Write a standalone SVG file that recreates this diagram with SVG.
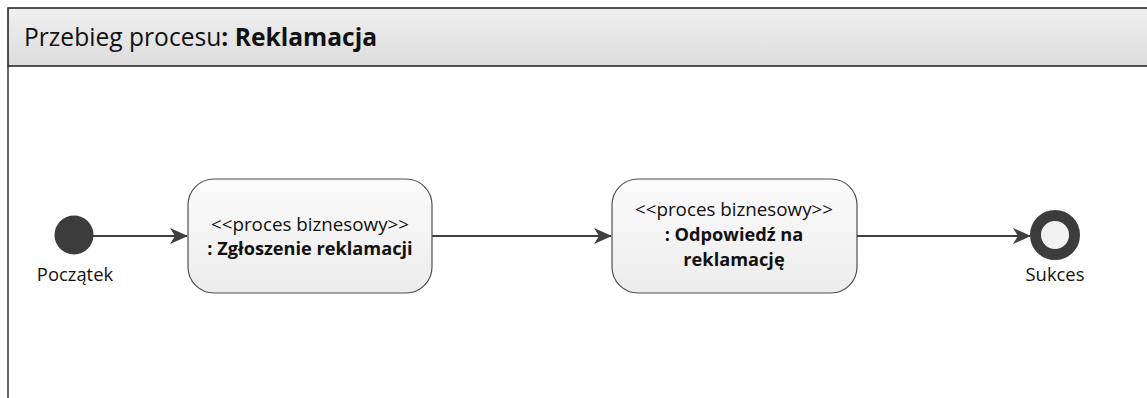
<svg xmlns="http://www.w3.org/2000/svg" width="1147" height="398" viewBox="0 0 1147 398">
<defs>
<linearGradient id="hdr" x1="0" y1="0" x2="0" y2="1">
<stop offset="0" stop-color="#f0f0f0"/>
<stop offset="1" stop-color="#dcdcdc"/>
</linearGradient>
<linearGradient id="box" x1="0" y1="0" x2="0" y2="1">
<stop offset="0" stop-color="#fbfbfb"/>
<stop offset="1" stop-color="#ececec"/>
</linearGradient>
<marker id="arr" markerWidth="18" markerHeight="16" refX="17" refY="8" orient="auto" markerUnits="userSpaceOnUse">
<path d="M0,0 L18,8 L0,16 L5,8 Z" fill="#404040"/>
</marker>
<style>
text{font-family:"Open Sans","Liberation Sans",sans-serif;fill:#111}
.lbl{font-size:18.4px}
.st{font-size:18.8px}
.b{font-size:18.2px;font-weight:bold}
.node{fill:url(#box);stroke:#505050;stroke-width:1.2}
.conn{stroke:#404040;stroke-width:2;fill:none}
</style>
</defs>
<g id="frame">
<rect x="8" y="8" width="1150" height="58" fill="url(#hdr)" stroke="#1a1a1a" stroke-width="1.5"/>
<line x1="8" y1="66" x2="8" y2="398" stroke="#333" stroke-width="1.5"/>
<text x="24" y="46" style="font-size:24.6px">Przebieg procesu<tspan style="font-weight:bold">: Reklamacja</tspan></text>
</g>
<g id="connectors">
<line class="conn" x1="93" y1="236" x2="187" y2="236" marker-end="url(#arr)"/>
<line class="conn" x1="432" y1="236" x2="611" y2="236" marker-end="url(#arr)"/>
<line class="conn" x1="857" y1="236" x2="1030" y2="236" marker-end="url(#arr)"/>
</g>
<g id="start">
<circle cx="74" cy="235" r="19.5" fill="#3c3c3c"/>
<text class="lbl" x="75" y="281" text-anchor="middle">Początek</text>
</g>
<g id="zgloszenie">
<rect class="node" x="188" y="179" width="244" height="114" rx="26"/>
<text class="st" x="310" y="231" text-anchor="middle">&lt;&lt;proces biznesowy&gt;&gt;</text>
<text class="b" x="310" y="255" text-anchor="middle">: Zgłoszenie reklamacji</text>
</g>
<g id="odpowiedz">
<rect class="node" x="612" y="179" width="245" height="114" rx="26"/>
<text class="st" x="734" y="216" text-anchor="middle">&lt;&lt;proces biznesowy&gt;&gt;</text>
<text class="b" x="734" y="241" text-anchor="middle">: Odpowiedź na</text>
<text class="b" x="734" y="266" text-anchor="middle">reklamację</text>
</g>
<g id="sukces">
<circle cx="1055" cy="235" r="19.5" fill="#f2f2f2" stroke="#3c3c3c" stroke-width="11"/>
<text class="lbl" x="1055" y="281" text-anchor="middle">Sukces</text>
</g>
</svg>
